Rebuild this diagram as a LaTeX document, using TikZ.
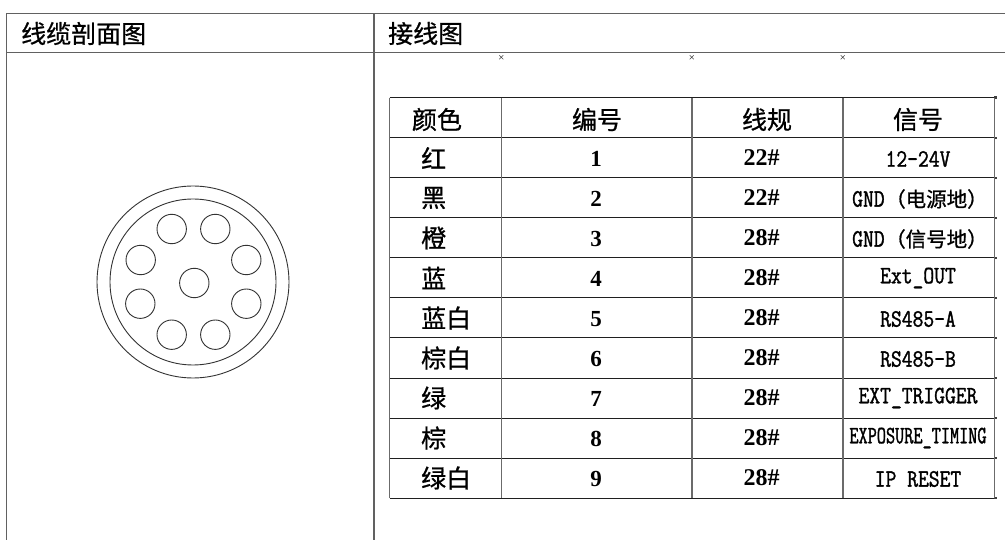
\documentclass[tikz,border=0pt]{standalone}
\usepackage{fontspec}
\newfontfamily\cjk{Noto Sans CJK SC}[FakeBold=0.8]
\newfontfamily\sigf{Latin Modern Mono}[FakeStretch=0.84,FakeBold=1.3]
\newfontfamily\sigg{Latin Modern Mono}[FakeStretch=0.71,FakeBold=1.3]
\newfontfamily\numf{Liberation Serif}[BoldFont={Liberation Serif Bold}]
\tikzset{
  frameline/.style={draw=black!62,line width=1.1pt},
  rowline/.style={draw=black!88,line width=1pt},
  colline/.style={draw=black!58,line width=1.1pt},
  wire/.style={draw=black!80,line width=0.9pt},
  head/.style={inner sep=0pt,font=\cjk\fontsize{25}{25}\selectfont},
  cjksig/.style={inner sep=0pt,anchor=west,font=\cjk\fontsize{20.5}{21}\selectfont},
  num/.style={inner sep=0pt,font=\numf\bfseries\fontsize{23}{23}\selectfont},
  gauge/.style={inner sep=0pt,font=\numf\bfseries\fontsize{24}{24}\selectfont},
  sig/.style={inner sep=0pt,font=\sigf\fontsize{25}{25}\selectfont},
}
\begin{document}
\begin{tikzpicture}[x=1pt,y=-1pt]
\useasboundingbox (0,0) rectangle (1005,540);
\fill[white] (0,0) rectangle (1005,540);
% frame
\draw[frameline] (1005,13.7) -- (6.5,13.7) -- (6.5,540);
\draw[frameline] (6.5,52.3) -- (1005,52.3);
\draw[frameline] (374,13.7) -- (374,540);
\node[head,anchor=west] (t1) at (21,33.5) {线缆剖面图};
\node[head,anchor=west] (t2) at (388,33.5) {接线图};
% cable section
\draw[wire] (193,282) circle (96);
\draw[wire] (193,282) circle (83);
\foreach \p/\q in {194.3/283,171.7/229,215.3/229,246.3/260,246.3/303.7,215.3/334.7,171.7/334.7,140.3/303.7,140.7/260}
  \draw[wire] (\p,\q) circle (14.7);
% marks above table
\foreach \p in {501.5,692,843}
  \node[font=\fontsize{7}{7}\bfseries\selectfont,inner sep=0pt] at (\p,58) {×};
% table
\foreach \q in {97.7,138,178,218,258,298,338,378,418,458,498}{
  \draw[rowline] (389.5,\q) -- (994.5,\q);
  \fill[black!75] (993.5,\q-1.2) rectangle (996.5,\q+1.2);
}
\foreach \p in {389.5,501.5,692,843,994.5}
  \draw[colline] (\p,97.7) -- (\p,498);
% header row
\node[head] (h1) at (437,119.5) {颜色};
\node[head] (h2) at (597,119.5) {编号};
\node[head] (h3) at (767,119.5) {线规};
\node[head] (h4) at (918,119.5) {信号};
% rows
\foreach \n/\y/\c/\g in {
  1/158/红/22\#,
  2/198/黑/22\#,
  3/238/橙/28\#,
  4/278/蓝/28\#,
  5/318/蓝白/28\#,
  6/358/棕白/28\#,
  7/398/绿/28\#,
  8/438/棕/28\#,
  9/478/绿白/28\#}{
  \node[head,anchor=west] (c\n) at (421,\y) {\c};
  \node[num] (n\n) at (596,\y+1) {\n};
  \node[gauge] (g\n) at (761.5,\y) {\g};
}
\node[sig] (s1) at (918,159) {12-24V};
\node[sig,anchor=west] (s2a) at (852,199) {GND};
\node[cjksig] (s2b) at (885,199) {（电源地）};
\node[sig,anchor=west] (s3a) at (852,239) {GND};
\node[cjksig] (s3b) at (885,239) {（信号地）};
\node[sig] (s4) at (918,278) {Ext\_OUT};
\node[sig] (s5) at (918,319) {RS485-A};
\node[sig] (s6) at (918,359) {RS485-B};
\node[sig] (s7) at (918,398) {EXT\_TRIGGER};
\node[inner sep=0pt,font=\sigg\fontsize{25}{25}\selectfont] (s8) at (918,438) {EXPOSURE\_TIMING};
\node[sig] (s9) at (918,479) {IP RESET};
\end{tikzpicture}
\end{document}
